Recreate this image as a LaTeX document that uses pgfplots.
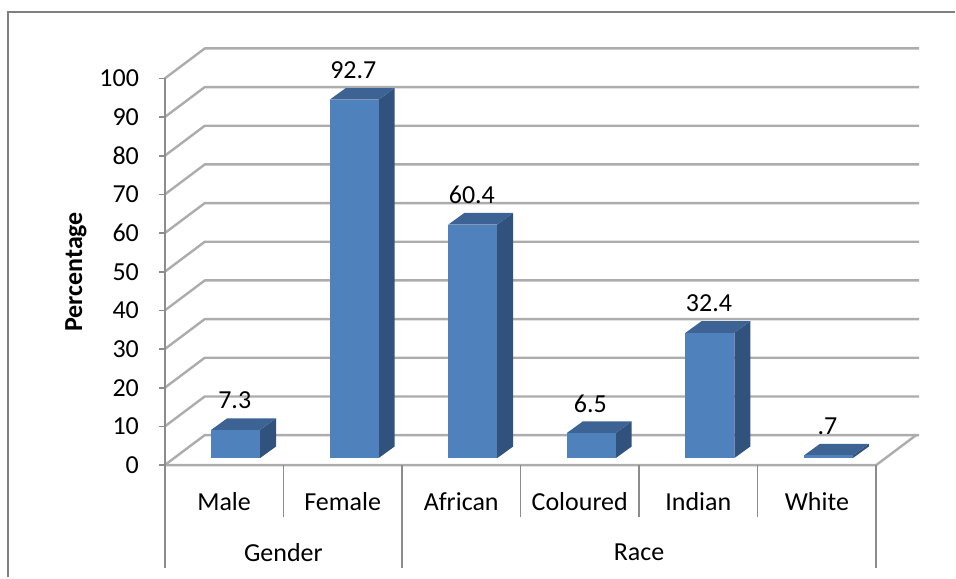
\documentclass[border=0pt]{standalone}
\usepackage{pgfplots}
\usepackage{pgfplotstable}
\usepackage{fontspec}
\setmainfont{Carlito}
\pgfplotsset{compat=1.18}

\definecolor{barfront}{RGB}{79,129,189}
\definecolor{bartop}{RGB}{60,99,148}
\definecolor{barside}{RGB}{50,82,126}
\definecolor{gridgray}{RGB}{172,172,172}
\definecolor{axisgray}{RGB}{140,140,140}
\definecolor{framegray}{RGB}{128,128,128}

\newcommand\lbl{\fontsize{13}{15.5}\selectfont}

\pgfplotsset{
  wallgrid/.style={draw=gridgray, line width=1.2pt},
  axisline/.style={draw=axisgray, line width=0.8pt},
  labelnodes/.style={only marks, mark=*, mark size=0pt,
    mark options={draw=none, fill=none},
    point meta=explicit symbolic, nodes near coords,
    every node near coord/.append style={anchor=center, inner sep=0pt, font=\lbl, text=black}},
}

% percentages
\pgfplotstableread{
x v lab
0 7.3 7.3
1 92.7 92.7
2 60.4 60.4
3 6.5 6.5
4 32.4 32.4
5 0.7 .7
}\bardata

\pgfplotstableread{
x name
0 Male
1 Female
2 African
3 Coloured
4 Indian
5 White
}\catdata

\pgfplotstableread{
x name
0.5 Gender
3.5 Race
}\groupdata

\pgfplotstableread{
v lab
0 0
10 10
20 20
30 30
40 40
50 50
60 60
70 70
80 80
90 90
100 100
}\tickdata

% depth of the walls (data units)
\def\ddx{0.337}
\def\ddy{7.75}
% bar geometry: half width, front offset, depth
\def\hw{0.206}
\def\bxo{0.097}
\def\byo{1.8}
\def\bdx{0.135}
\def\bdy{3.0}

\newcommand\barthreed[2]{%
  \pgfmathsetmacro\xl{#1+\bxo-\hw}%
  \pgfmathsetmacro\xr{#1+\bxo+\hw}%
  \pgfmathsetmacro\xlb{\xl+\bdx}%
  \pgfmathsetmacro\xrb{\xr+\bdx}%
  \pgfmathsetmacro\yf{\byo}%
  \pgfmathsetmacro\yb{\byo+\bdy}%
  \pgfmathsetmacro\yft{#2+\byo}%
  \pgfmathsetmacro\ybt{#2+\byo+\bdy}%
  \edef\temp{\noexpand\addplot[fill=barside, draw=none] coordinates {(\xr,\yf) (\xrb,\yb) (\xrb,\ybt) (\xr,\yft)};}\temp
  \edef\temp{\noexpand\addplot[fill=bartop, draw=none] coordinates {(\xl,\yft) (\xr,\yft) (\xrb,\ybt) (\xlb,\ybt)};}\temp
  \edef\temp{\noexpand\addplot[fill=barfront, draw=none] coordinates {(\xl,\yf) (\xr,\yf) (\xr,\yft) (\xl,\yft)};}\temp
}

\begin{document}
\begin{tikzpicture}
\begin{axis}[
  x=59.33pt, y=1.935pt,
  xmin=-1.890, xmax=6.165, ymin=-29.07, ymax=120.28,
  hide axis, clip=false,
]
% canvas extent
\addplot[draw=none] coordinates {(-1.890,-29.07) (6.165,120.28)};
% chart frame
\addplot[draw=framegray, line width=1pt] coordinates {(-1.8227,-29.07) (-1.8227,117.18) (6.165,117.18)};

% side and back wall gridlines
\pgfplotsinvokeforeach{0,10,...,100}{%
  \pgfmathsetmacro\ybk{#1+\ddy}%
  \edef\temp{\noexpand\addplot[wallgrid] coordinates {(-0.5,#1) (-0.163,\ybk) (5.862,\ybk)};}\temp
}
% floor outline
\addplot[wallgrid] coordinates {(-0.5,0) (5.5,0) (5.837,\ddy)};

% value axis and ticks
\addplot[axisline] coordinates {(-0.5,100) (-0.5,-26.7)};
\pgfplotsinvokeforeach{0,10,...,100}{%
  \addplot[axisline] coordinates {(-0.545,#1) (-0.5,#1)};
}
\addplot[labelnodes, every node near coord/.append style={anchor=east}]
  table[x expr=-0.715, y=v, meta=lab]{\tickdata};

% category separators
\pgfplotsinvokeforeach{0.5,1.5,2.5,3.5,4.5}{%
  \addplot[axisline] coordinates {(#1,0) (#1,-13.3)};
}
\addplot[axisline] coordinates {(1.5,0) (1.5,-26.7)};
\addplot[axisline] coordinates {(5.5,0) (5.5,-26.7)};

% bars
\pgfplotsinvokeforeach{0,...,5}{%
  \pgfplotstablegetelem{#1}{v}\of\bardata
  \let\val\pgfplotsretval
  \barthreed{#1}{\val}
}

% value labels
\addplot[labelnodes] table[x expr=\thisrow{x}+0.09, y expr=\thisrow{v}+9.4, meta=lab]{\bardata};

% category and group names
\addplot[labelnodes] table[x=x, y expr=-9.35, meta=name]{\catdata};
\addplot[labelnodes] table[x=x, y expr=-22.5, meta=name]{\groupdata};

% value axis title
\addplot[labelnodes, every node near coord/.append style={rotate=90, font=\lbl\bfseries}]
  coordinates {(-1.25,50) [Percentage]};
\end{axis}
\end{tikzpicture}
\end{document}
